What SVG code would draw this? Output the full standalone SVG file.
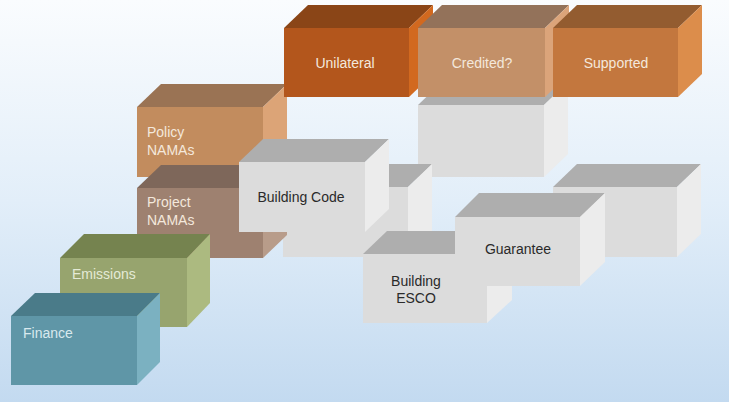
<svg xmlns="http://www.w3.org/2000/svg" width="729" height="402" viewBox="0 0 729 402">
<defs>
<linearGradient id="bg" x1="0" y1="0" x2="0" y2="1">
<stop offset="0" stop-color="#FAFCFE"/>
<stop offset="0.5" stop-color="#E2EEF9"/>
<stop offset="1" stop-color="#C3DAF0"/>
</linearGradient>
</defs>
<style>
text{font-family:"Liberation Sans",Arial,sans-serif;font-size:14px}
.lt{fill:#F4E8DC}
.dk{fill:#2A2A2A}
.gray .f{fill:#DCDCDC}.gray .t{fill:#AEAEAE}.gray .s{fill:#ECECEC}
.uni .f{fill:#B3561C}.uni .t{fill:#8A4517}.uni .s{fill:#D2691F}
.cre .f{fill:#C39068}.cre .t{fill:#93725A}.cre .s{fill:#DBA47A}
.sup .f{fill:#C3773E}.sup .t{fill:#935C30}.sup .s{fill:#DC8D4B}
.pol .f{fill:#C28C5E}.pol .t{fill:#9A7354}.pol .s{fill:#DCA477}
.pro .f{fill:#9E8170}.pro .t{fill:#7E675A}.pro .s{fill:#B89C8A}
.emi .f{fill:#97A46E}.emi .t{fill:#75834F}.emi .s{fill:#ACBA80}
.fin .f{fill:#5F96A7}.fin .t{fill:#4A7B89}.fin .s{fill:#7BB1C1}
</style>
<rect x="0" y="0" width="729" height="402" fill="url(#bg)"/>
<g id="box-behind-credited" class="gray" transform="translate(418,105)">
<rect class="f" x="0" y="0" width="126" height="72"/>
<polygon class="t" points="0,0 126,0 150,-23 24,-23"/>
<polygon class="s" points="126,0 150,-23 150,49 126,72"/>
</g>
<g id="box-behind-code" class="gray" transform="translate(283,187)">
<rect class="f" x="0" y="0" width="125" height="70"/>
<polygon class="t" points="0,0 125,0 149,-23 24,-23"/>
<polygon class="s" points="125,0 149,-23 149,47 125,70"/>
</g>
<g id="box-right" class="gray" transform="translate(553,187)">
<rect class="f" x="0" y="0" width="124" height="70"/>
<polygon class="t" points="0,0 124,0 148,-23 24,-23"/>
<polygon class="s" points="124,0 148,-23 148,47 124,70"/>
</g>
<g id="policy-namas" class="pol" transform="translate(137,107)">
<rect class="f" x="0" y="0" width="126" height="70"/>
<polygon class="t" points="0,0 126,0 150,-23 24,-23"/>
<polygon class="s" points="126,0 150,-23 150,47 126,70"/>
<text class="lt" x="10" y="30">Policy</text>
<text class="lt" x="10" y="48">NAMAs</text>
</g>
<g id="project-namas" class="pro" transform="translate(137,188)">
<rect class="f" x="0" y="0" width="126" height="70"/>
<polygon class="t" points="0,0 126,0 150,-23 24,-23"/>
<polygon class="s" points="126,0 150,-23 150,47 126,70"/>
<text class="lt" x="10" y="19">Project</text>
<text class="lt" x="10" y="37">NAMAs</text>
</g>
<g id="unilateral" class="uni" transform="translate(284,28)">
<rect class="f" x="0" y="0" width="125" height="69"/>
<polygon class="t" points="0,0 125,0 149,-23 24,-23"/>
<polygon class="s" points="125,0 149,-23 149,46 125,69"/>
<text class="lt" x="61" y="40" text-anchor="middle">Unilateral</text>
</g>
<g id="credited" class="cre" transform="translate(418,28)">
<rect class="f" x="0" y="0" width="127" height="69"/>
<polygon class="t" points="0,0 127,0 151,-23 24,-23"/>
<polygon class="s" points="127,0 151,-23 151,46 127,69"/>
<text class="lt" x="64" y="40" text-anchor="middle">Credited?</text>
</g>
<g id="supported" class="sup" transform="translate(553,28)">
<rect class="f" x="0" y="0" width="125" height="69"/>
<polygon class="t" points="0,0 125,0 149,-23 24,-23"/>
<polygon class="s" points="125,0 149,-23 149,46 125,69"/>
<text class="lt" x="63" y="40" text-anchor="middle">Supported</text>
</g>
<g id="building-code" class="gray" transform="translate(239,162)">
<rect class="f" x="0" y="0" width="126" height="70"/>
<polygon class="t" points="0,0 126,0 150,-23 24,-23"/>
<polygon class="s" points="126,0 150,-23 150,47 126,70"/>
<text class="dk" x="62" y="40" text-anchor="middle">Building Code</text>
</g>
<g id="emissions" class="emi" transform="translate(60,258)">
<rect class="f" x="0" y="0" width="127" height="69"/>
<polygon class="t" points="0,0 127,0 150,-24 24,-24"/>
<polygon class="s" points="127,0 150,-24 150,45 127,69"/>
<text class="lt" x="12" y="21" style="fill:#E4EAD6">Emissions</text>
</g>
<g id="finance" class="fin" transform="translate(11,316)">
<rect class="f" x="0" y="0" width="126" height="69"/>
<polygon class="t" points="0,0 126,0 149,-23 24,-23"/>
<polygon class="s" points="126,0 149,-23 149,46 126,69"/>
<text class="lt" x="12" y="22" style="fill:#D9E9EE">Finance</text>
</g>
<g id="building-esco" class="gray" transform="translate(363,254)">
<rect class="f" x="0" y="0" width="124" height="69"/>
<polygon class="t" points="0,0 124,0 149,-23 24,-23"/>
<polygon class="s" points="124,0 149,-23 149,46 124,69"/>
<text class="dk" x="53" y="32" text-anchor="middle">Building</text>
<text class="dk" x="53" y="49" text-anchor="middle">ESCO</text>
</g>
<g id="guarantee" class="gray" transform="translate(455,217)">
<rect class="f" x="0" y="0" width="125" height="69"/>
<polygon class="t" points="0,0 125,0 150,-24 24,-24"/>
<polygon class="s" points="125,0 150,-24 150,45 125,69"/>
<text class="dk" x="63" y="37" text-anchor="middle">Guarantee</text>
</g>
</svg>
